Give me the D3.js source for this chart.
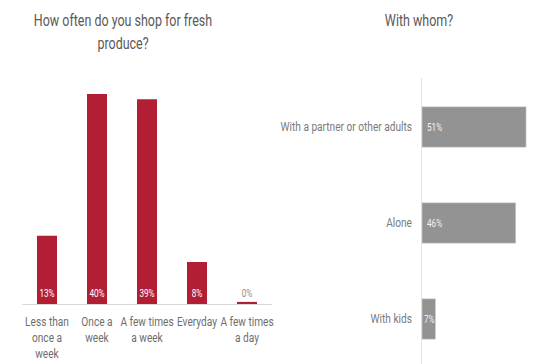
<!DOCTYPE html>
<html>
<head>
<meta charset="utf-8">
<script src="https://cdn.jsdelivr.net/npm/d3@7"></script>
<style>
  body { margin: 0; background: #fff; }
  svg text { font-family: "Roboto", "Liberation Sans", sans-serif; }
</style>
</head>
<body>
<svg id="chart" width="555" height="364"></svg>
<script>
// how often - categories and shares (%)
var freqLabels = [
  ["Less than", "once a", "week"],
  ["Once a", "week"],
  ["A few times", "a week"],
  ["Everyday"],
  ["A few times", "a day"]
]
var freqValues = [13, 40, 39, 8, 0.4]

// with whom - categories and shares (%)
var whoLabels = ["With a partner or other adults", "Alone", "With kids"]
var whoValues = [51, 46, 7]

var svg = d3.select("#chart")
var pct = function (v) { return Math.round(v) + "%" }
var narrow = 0.78 // squeeze text to look like a condensed face

// writes a (possibly multi-line) condensed text at x,y
function label(parent, x, y, lines, size, color, anchor, lineH) {
  var t = parent.append("text")
    .attr("transform", "translate(" + x + "," + y + ") scale(" + narrow + ",1)")
    .attr("text-anchor", anchor || "middle")
    .style("font-size", size + "px")
    .style("fill", color);
  t.selectAll("tspan")
    .data([].concat(lines))
    .enter().append("tspan")
    .attr("x", 0)
    .attr("y", function (d, i) { return i * (lineH || 0) })
    .text(function (d) { return d });
  return t;
}

// ---- left chart
var x = d3.scaleBand()
  .domain(d3.range(freqValues.length))
  .range([22, 272])
  .paddingInner(0.6)
  .paddingOuter(0.3);
var y = d3.scaleLinear().domain([0, 40]).range([304, 94]);

label(svg, 123, 26, ["How often do you shop for fresh", "produce?"], 16, "#595959", "middle", 23);

svg.append("line")
  .attr("x1", 22).attr("x2", 272)
  .attr("y1", y(0) + 0.5).attr("y2", y(0) + 0.5)
  .attr("stroke", "#d9d9d9");

svg.append("g").selectAll("rect")
  .data(freqValues)
  .enter().append("rect")
  .attr("x", function (d, i) { return x(i) })
  .attr("width", x.bandwidth())
  .attr("y", function (d) { return y(d) })
  .attr("height", function (d) { return y(0) - y(d) })
  .attr("fill", "#b21f35");

var gv = svg.append("g");
freqValues.forEach(function (d, i) {
  label(gv, x(i) + x.bandwidth() / 2, 297, pct(d), 10.5, d < 1 ? "#8c8c8c" : "#fff");
});

var gc = svg.append("g");
freqLabels.forEach(function (lines, i) {
  label(gc, x(i) + x.bandwidth() / 2, 326, lines, 13, "#6e6e6e", "middle", 16);
});

// ---- right chart
var yb = d3.scaleBand()
  .domain(whoLabels)
  .range([79, 367])
  .paddingInner(0.58)
  .paddingOuter(0.29);
var xb = d3.scaleLinear().domain([0, 100]).range([421, 627]);

label(svg, 419, 26, "With whom?", 16, "#595959");

svg.append("line")
  .attr("x1", 421.5).attr("x2", 421.5)
  .attr("y1", 78).attr("y2", 364)
  .attr("stroke", "#e3e3e3");

svg.append("g").selectAll("rect")
  .data(whoValues)
  .enter().append("rect")
  .attr("x", xb(0) + 1)
  .attr("y", function (d, i) { return yb(whoLabels[i]) })
  .attr("width", function (d) { return xb(d) - xb(0) - 1 })
  .attr("height", yb.bandwidth())
  .attr("fill", "#939393")
  .attr("stroke", "#d0d0d0")
  .attr("stroke-width", 0.6);

var gw = svg.append("g");
whoValues.forEach(function (d, i) {
  var cy = yb(whoLabels[i]) + yb.bandwidth() / 2 + 4;
  if (d < 10) label(gw, xb(0) + (xb(d) - xb(0)) / 2 + 1, cy, pct(d), 10.5, "#f2f2f2");
  else label(gw, 427, cy, pct(d), 10.5, "#f2f2f2", "start");
});

var gl = svg.append("g");
whoLabels.forEach(function (d) {
  label(gl, 412, yb(d) + yb.bandwidth() / 2 + 4, d, 13, "#7a7a7a", "end");
});
</script>
</body>
</html>
